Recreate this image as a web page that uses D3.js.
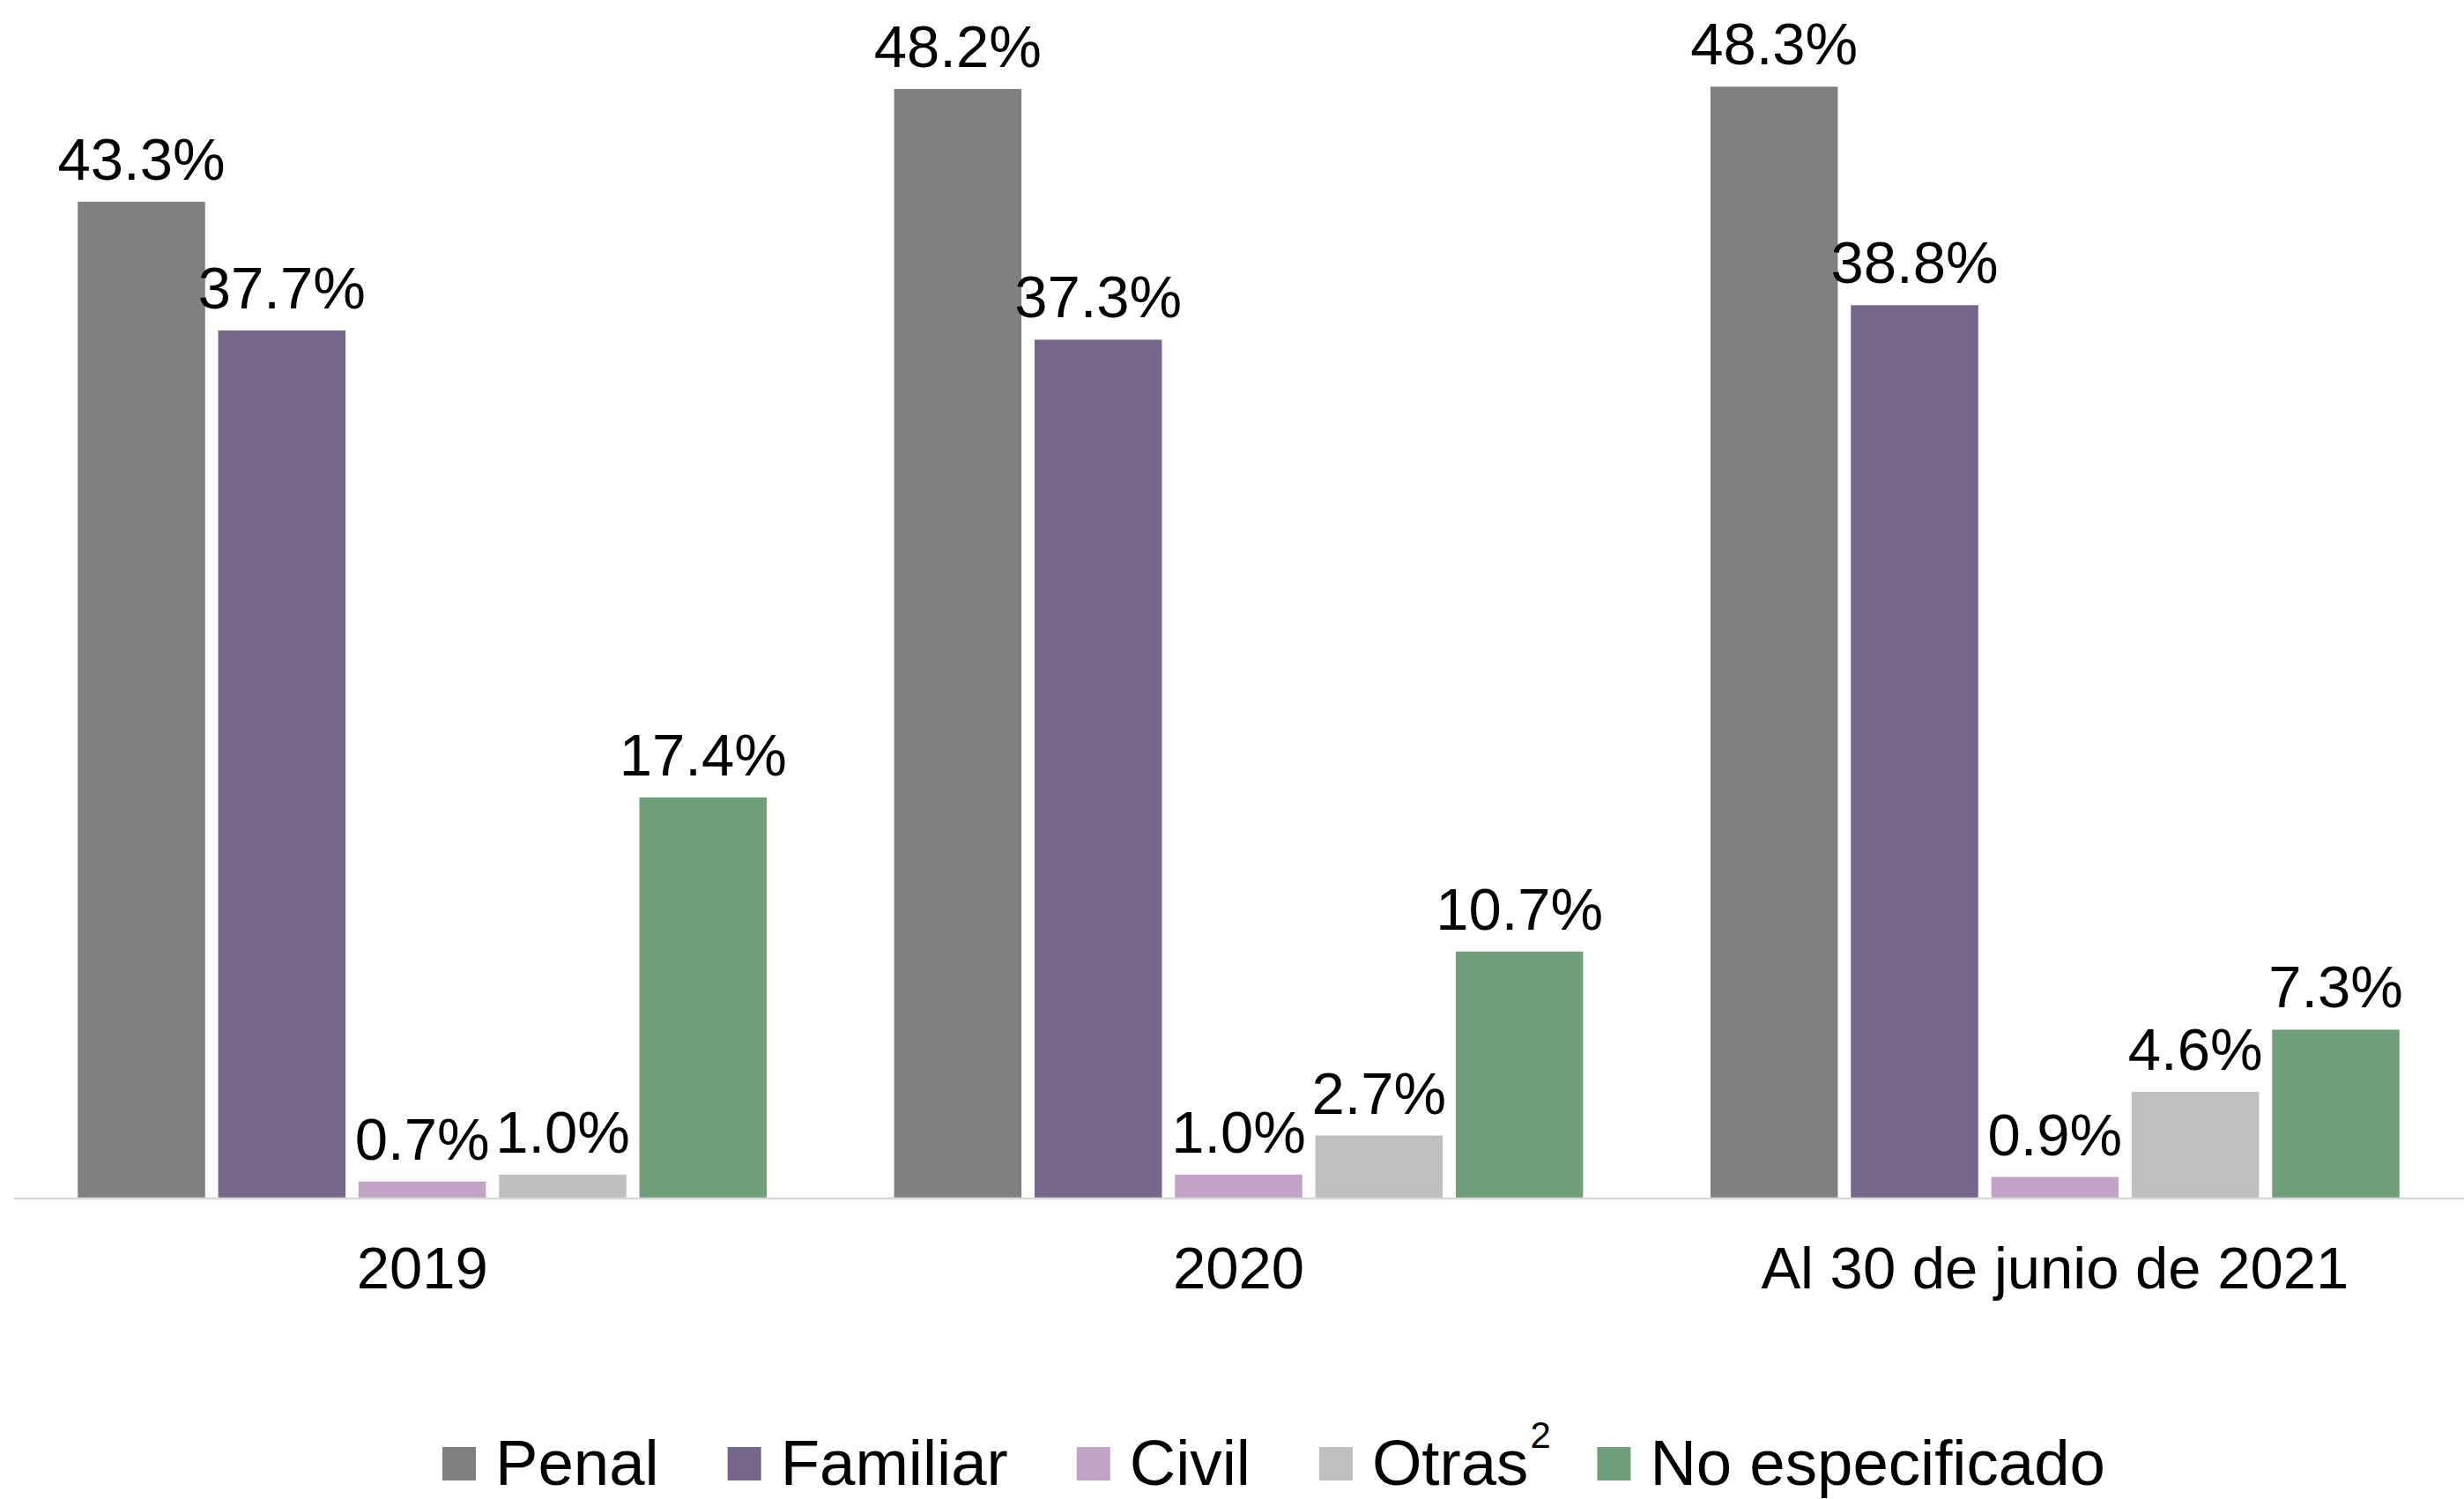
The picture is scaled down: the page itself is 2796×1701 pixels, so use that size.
<!DOCTYPE html>
<html>
<head>
<meta charset="utf-8">
<script src="https://cdn.jsdelivr.net/npm/d3@7"></script>
<style>
  html, body { margin: 0; padding: 0; background: #fff; }
  svg { display: block; font-family: "Liberation Sans", Arial, sans-serif; }
</style>
</head>
<body>
<svg id="chart" width="2796" height="1701"></svg>
<script>
// Categories and series
const categories = ['2019', '2020', 'Al 30 de junio de 2021'];
const seriesNames = ['Penal', 'Familiar', 'Civil', 'Otras', 'No especificado'];
const penal      = [43.3, 48.2, 48.3];
const familiar   = [37.7, 37.3, 38.8];
const civil      = [0.7, 1.0, 0.9];
const otras      = [1.0, 2.7, 4.6];
const noEspecif  = [17.4, 10.7, 7.3];
const seriesColors = ['#808080', '#75668b', '#c1a3c6', '#bfbfbf', '#6f9f79'];

const allSeries = [penal, familiar, civil, otras, noEspecif];

const W = 2796, H = 1701;
const baseY = 1359;

const svg = d3.select('#chart');

const x0 = d3.scaleBand()
  .domain(categories)
  .range([16, 2795])
  .paddingInner(0.156)
  .paddingOuter(0.078);

const x1 = d3.scaleBand()
  .domain(seriesNames)
  .range([0, x0.bandwidth()])
  .paddingInner(0.093)
  .paddingOuter(0);

const y = d3.scaleLinear()
  .domain([0, 52])
  .range([baseY, baseY - 52 * 26.1]);

const color = d3.scaleOrdinal().domain(seriesNames).range(seriesColors);

// flatten to rows
const rows = [];
categories.forEach((c, ci) => {
  seriesNames.forEach((s, si) => {
    rows.push({ cat: c, series: s, value: allSeries[si][ci] });
  });
});

// bars
const gBars = svg.append('g');
gBars.selectAll('rect.bar')
  .data(rows)
  .join('rect')
    .attr('class', 'bar')
    .attr('x', d => x0(d.cat) + x1(d.series))
    .attr('y', d => y(d.value))
    .attr('width', x1.bandwidth())
    .attr('height', d => y(0) - y(d.value))
    .attr('fill', d => color(d.series));

// value labels
gBars.selectAll('text.val')
  .data(rows)
  .join('text')
    .attr('class', 'val')
    .attr('x', d => x0(d.cat) + x1(d.series) + x1.bandwidth() / 2)
    .attr('y', d => y(d.value) - 25)
    .attr('text-anchor', 'middle')
    .attr('font-size', 67)
    .attr('fill', '#000')
    .text(d => d.value.toFixed(1) + '%');

// baseline
svg.append('line')
  .attr('x1', 16).attr('x2', W)
  .attr('y1', baseY + 1).attr('y2', baseY + 1)
  .attr('stroke', '#d9d9d9')
  .attr('stroke-width', 2.5);

// category labels
const xAxis = d3.axisBottom(x0).tickSize(0).tickPadding(0);
const gAx = svg.append('g')
  .attr('transform', `translate(0,${baseY})`)
  .call(xAxis);
gAx.select('.domain').remove();
gAx.selectAll('text')
  .attr('dy', null)
  .attr('y', 103)
  .attr('font-size', 67)
  .attr('font-family', '"Liberation Sans", Arial, sans-serif')
  .attr('fill', '#000');

// legend
const legend = svg.append('g').attr('transform', 'translate(502,0)');
let lx = 0;
seriesNames.forEach(name => {
  const item = legend.append('g').attr('transform', `translate(${lx},0)`);
  item.append('rect')
    .attr('x', 0).attr('y', 1642)
    .attr('width', 38).attr('height', 38)
    .attr('fill', color(name));
  const t = item.append('text')
    .attr('x', 60).attr('y', 1685)
    .attr('font-size', 72.6)
    .attr('fill', '#000')
    .text(name);
  const tw = t.node().getComputedTextLength();
  if (name === 'Otras') {
    item.append('text')
      .attr('x', 60 + tw + 2).attr('y', 1643)
      .attr('font-size', 42)
      .attr('fill', '#000')
      .text('2');
  }
  lx += 60 + tw + 78;
});
</script>
</body>
</html>
